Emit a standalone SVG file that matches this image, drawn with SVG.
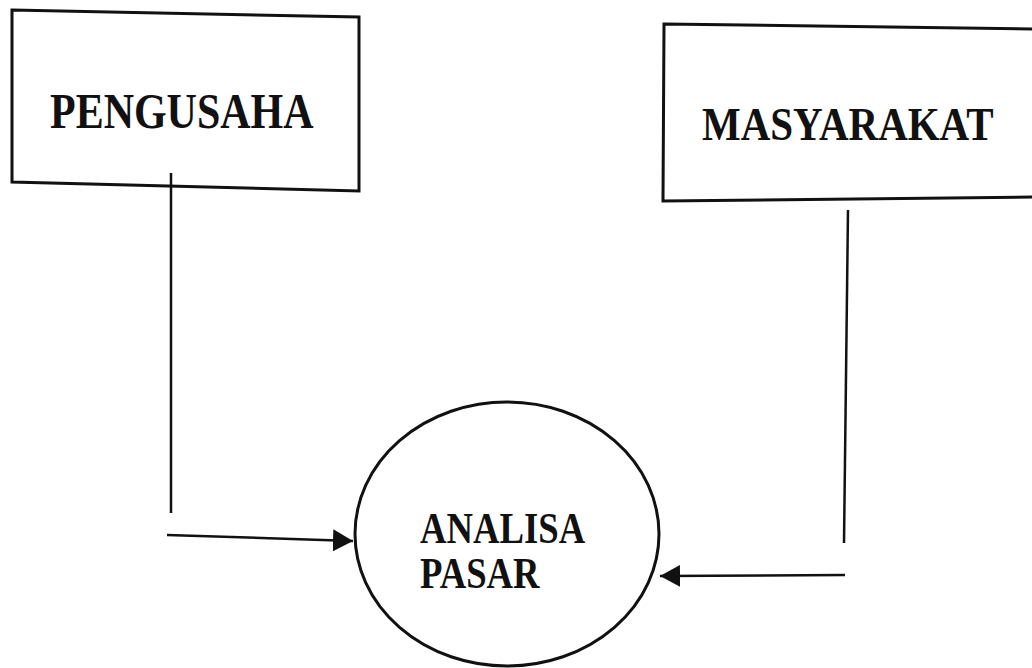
<svg xmlns="http://www.w3.org/2000/svg" width="1032" height="668" viewBox="0 0 1032 668">
<style>
.box{fill:#fff;stroke:#111;stroke-width:3}
.ln{fill:none;stroke:#111;stroke-width:2.5}
.lbl{font-family:"Liberation Serif","Times New Roman",serif;font-weight:bold;fill:#111}
</style>
<defs>
<marker id="ah" markerUnits="userSpaceOnUse" markerWidth="22" markerHeight="24" refX="20" refY="12" orient="auto">
<path d="M0,1 L20,12 L0,23 Z" fill="#111"/>
</marker>
</defs>
<rect width="1032" height="668" fill="#fff"/>
<g id="pengusaha">
<polygon class="box" points="12,10 359,17 359,191 12,182"/>
<text class="lbl" font-size="42" transform="translate(50,128) scale(1,1.22)">PENGUSAHA</text>
</g>
<g id="masyarakat">
<polygon class="box" points="664,24 1040,29 1040,197 663,201"/>
<text class="lbl" font-size="41" transform="translate(702,140) scale(1,1.15)">MASYARAKAT</text>
</g>
<g id="analisa-pasar">
<ellipse class="box" cx="507" cy="534" rx="152" ry="132"/>
<text class="lbl" font-size="36.7" transform="translate(420,543) scale(1,1.22)">ANALISA</text>
<text class="lbl" font-size="36.7" transform="translate(420,588) scale(1,1.22)">PASAR</text>
</g>
<g id="connectors">
<line class="ln" x1="171" y1="173" x2="171" y2="513"/>
<line class="ln" x1="167" y1="535" x2="353" y2="541" marker-end="url(#ah)"/>
<line class="ln" x1="848" y1="210" x2="844" y2="543"/>
<line class="ln" x1="845" y1="575" x2="660" y2="576" marker-end="url(#ah)"/>
</g>
</svg>
